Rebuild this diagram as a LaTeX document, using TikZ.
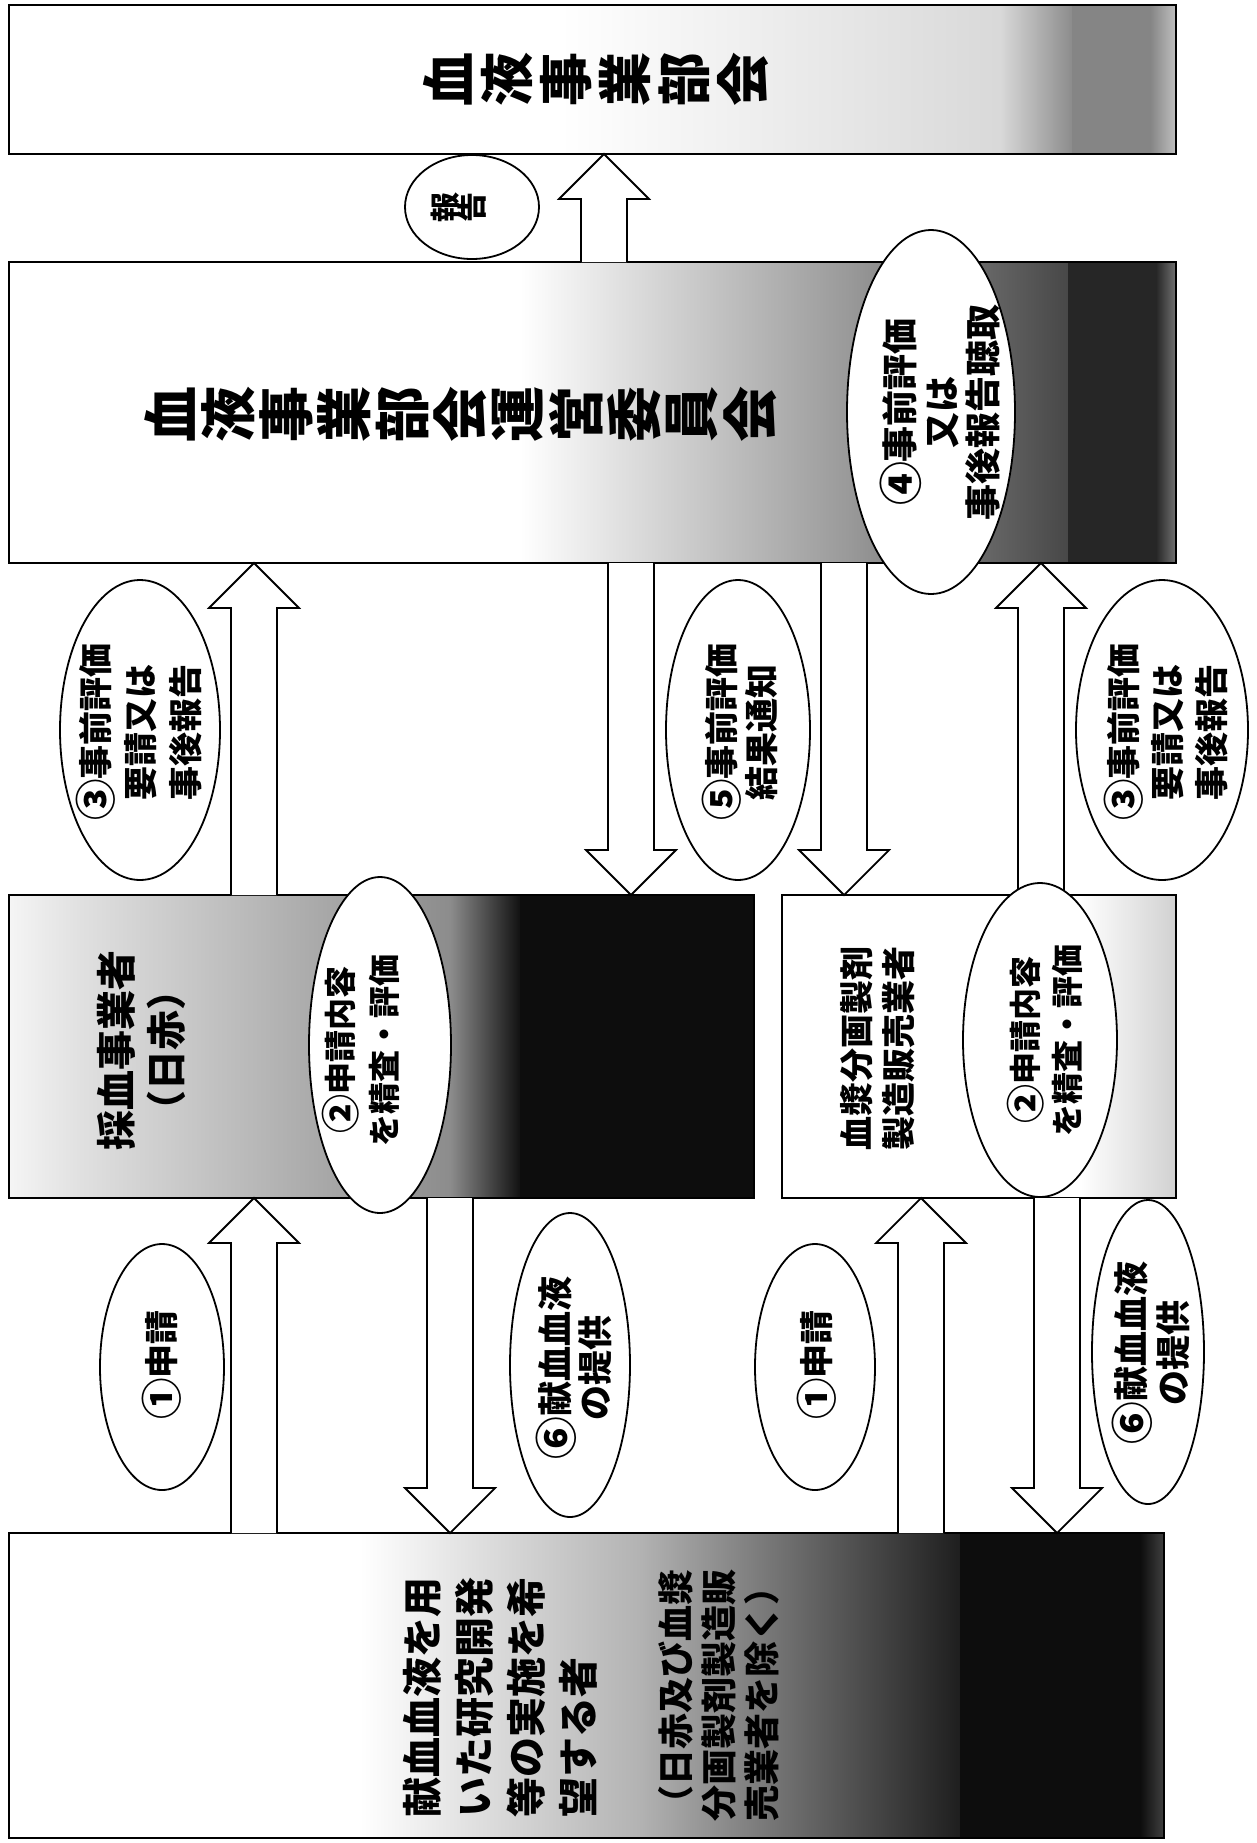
\documentclass[tikz,border=0pt]{standalone}
\usepackage{fontspec}
\usepackage{graphicx}
\setmainfont{Noto Sans CJK JP}
\usetikzlibrary{calc,shapes.geometric}
\newcommand{\blkup}[2]{\draw[blk] ($(#1)+(-23,0)$) -- ($(#2)+(-23,45)$) -- ($(#2)+(-45,45)$) -- (#2) -- ($(#2)+(45,45)$) -- ($(#2)+(23,45)$) -- ($(#1)+(23,0)$);}
\newcommand{\blkdown}[2]{\draw[blk] ($(#1)+(-23,0)$) -- ($(#2)+(-23,-45)$) -- ($(#2)+(-45,-45)$) -- (#2) -- ($(#2)+(45,-45)$) -- ($(#2)+(23,-45)$) -- ($(#1)+(23,0)$);}
\newcommand{\cdg}[1]{\raisebox{-0.1em}{\scalebox{1.22}{#1}}}
\begin{document}
\begin{tikzpicture}[x=0.5pt,y=-0.5pt,
  box/.style={draw,line width=1.4pt,rectangle,inner sep=0pt},
  ell/.style={draw,ellipse,fill=white,line width=0.9pt,inner sep=0pt},
  blk/.style={draw,fill=white,line width=0.9pt,line join=miter},
  lbl/.style={rotate=90,align=center,inner sep=0pt,font=\bfseries\fontsize{17}{22}\selectfont},
  vch/.style={rotate=90,inner sep=0pt},
]
\useasboundingbox (0,0) rectangle (1257,1843);
\fill[white] (0,0) rectangle (1257,1843);
% ---- background shading of boxes
\shade[left color=white,right color=black!15] (560,5) rectangle (1000,154);
\shade[left color=black!15,right color=black!45] (1000,5) rectangle (1072,154);
\fill[black!48] (1072,5) rectangle (1150,154);
\shade[left color=black!48,right color=black!25] (1150,5) rectangle (1176,154);
\shade[left color=white,right color=black!40] (520,262) rectangle (850,563);
\shade[left color=black!40,right color=black!72] (850,262) rectangle (1068,563);
\fill[black!85] (1068,262) rectangle (1156,563);
\shade[left color=black!85,right color=black!55] (1156,262) rectangle (1176,563);
\shade[left color=black!4,right color=black!12] (9,895) rectangle (80,1198);
\shade[left color=black!12,right color=black!32] (80,895) rectangle (300,1198);
\shade[left color=black!32,right color=black!45] (300,895) rectangle (450,1198);
\shade[left color=black!45,right color=black!93] (450,895) rectangle (520,1198);
\fill[black!95] (520,895) rectangle (754,1198);
\shade[left color=white,right color=black!18] (1080,895) rectangle (1176,1198);
\shade[left color=white,right color=black!30] (360,1533) rectangle (640,1838);
\shade[left color=black!30,right color=black!88] (640,1533) rectangle (960,1838);
\fill[black!95] (960,1533) rectangle (1140,1838);
\shade[left color=black!95,right color=black!75] (1140,1533) rectangle (1164,1838);
% ---- boxes
\node[box,minimum width=583.5pt,minimum height=74.5pt] (bukai) at (592.5,79.5) {};
\node[box,minimum width=583.5pt,minimum height=150.5pt] (iinkai) at (592.5,412.5) {};
\node[box,minimum width=372.5pt,minimum height=151.5pt] (saiketsu) at (381.5,1046.5) {};
\node[box,minimum width=197pt,minimum height=151.5pt] (kesho) at (979,1046.5) {};
\node[box,minimum width=577.5pt,minimum height=152.5pt] (kibou) at (586.5,1685.5) {};
% ---- box texts
\foreach \c [count=\i] in {血,液,事,業,部,会}
  \node[vch,font=\bfseries\fontsize{27}{30}\selectfont] (ta\i) at ({448+(\i-1)*59},79) {\c};
\foreach \c [count=\i] in {血,液,事,業,部,会,運,営,委,員,会}
  \node[vch,font=\bfseries\fontsize{28}{30}\selectfont] (tb\i) at ({170+(\i-1)*58},414) {\c};
\node[lbl,font=\bfseries\fontsize{20}{25}\selectfont] (tsai) at (141,1050) {採血事業者\\（日赤）};
\node[lbl,font=\bfseries\fontsize{17}{21}\selectfont] (tkes) at (878,1048) {血漿分画製剤\\製造販売業者};
\node[rotate=90,anchor=north west,align=left,inner sep=0pt,font=\bfseries\fontsize{20}{26}\selectfont] (tkib1) at (403,1818) {献血血液を用\\いた研究開発\\等の実施を希\\望する者};
\node[rotate=90,anchor=north west,align=left,inner sep=0pt,font=\bfseries\fontsize{18}{21.5}\selectfont] (tkib2) at (658,1822) {（日赤及び血漿\\分画製剤製造販\\売業者を除く）};
% ---- arrow end points
\coordinate (a0s) at (604,262);  \coordinate (a0e) at (604,154);
\coordinate (a3ls) at (254,895); \coordinate (a3le) at (254,563);
\coordinate (a5s) at (631,563);  \coordinate (a5e) at (631,895);
\coordinate (a5bs) at (844,563); \coordinate (a5be) at (844,895);
\coordinate (a3rs) at (1041,895); \coordinate (a3re) at (1041,563);
\coordinate (a1ls) at (254,1533); \coordinate (a1le) at (254,1198);
\coordinate (a6ls) at (450,1198); \coordinate (a6le) at (450,1533);
\coordinate (a1rs) at (921,1533); \coordinate (a1re) at (921,1198);
\coordinate (a6rs) at (1057,1198); \coordinate (a6re) at (1057,1533);
\blkup{a0s}{a0e}
\blkup{a3ls}{a3le}
\blkdown{a5s}{a5e}
\blkdown{a5bs}{a5be}
\blkup{a3rs}{a3re}
\blkup{a1ls}{a1le}
\blkdown{a6ls}{a6le}
\blkup{a1rs}{a1re}
\blkdown{a6rs}{a6re}
% ---- ellipses
\node[ell,minimum width=67pt,minimum height=52pt] (eh) at (472,207) {};
\node[ell,minimum width=84pt,minimum height=182pt] (e4) at (931,412) {};
\node[ell,minimum width=80pt,minimum height=150pt] (e3l) at (140,730) {};
\node[ell,minimum width=72pt,minimum height=150pt] (e5) at (738,730) {};
\node[ell,minimum width=86pt,minimum height=150pt] (e3r) at (1162,730) {};
\node[ell,minimum width=71pt,minimum height=168pt] (e2l) at (380,1045) {};
\node[ell,minimum width=77pt,minimum height=157pt] (e2r) at (1040,1040) {};
\node[ell,minimum width=62pt,minimum height=123pt] (e1l) at (162,1367) {};
\node[ell,minimum width=60pt,minimum height=152pt] (e6l) at (570,1365) {};
\node[ell,minimum width=60pt,minimum height=123pt] (e1r) at (815,1367) {};
\node[ell,minimum width=56pt,minimum height=152pt] (e6r) at (1148,1352) {};
% ---- ellipse labels
\node[vch,font=\bfseries\fontsize{15}{16}\selectfont] (lh1) at (445,207) {報};
\node[vch,font=\bfseries\fontsize{15}{16}\selectfont] (lh2) at (472,207) {告};
\node[lbl,font=\bfseries\fontsize{18}{20.75}\selectfont] (l4) at (940,412) {\cdg{④}事前評価\\又は\\事後報告聴取};
\node[lbl,font=\bfseries\fontsize{17}{22.5}\selectfont] (l3l) at (139,732) {\cdg{③}事前評価\\要請又は\\事後報告};
\node[lbl,font=\bfseries\fontsize{17}{20}\selectfont] (l5) at (740,732) {\cdg{⑤}事前評価\\結果通知};
\node[lbl,font=\bfseries\fontsize{17}{22}\selectfont] (l3r) at (1166,732) {\cdg{③}事前評価\\要請又は\\事後報告};
\node[lbl,font=\bfseries\fontsize{16}{22}\selectfont] (l2l) at (361,1050) {\cdg{②}申請内容\\を精査・評価};
\node[lbl,font=\bfseries\fontsize{16}{21}\selectfont] (l2r) at (1045,1040) {\cdg{②}申請内容\\を精査・評価};
\node[lbl] (l1l) at (162,1365) {\cdg{①}申請};
\node[lbl,font=\bfseries\fontsize{17.5}{20}\selectfont] (l6l) at (574,1368) {\cdg{⑥}献血血液\\の提供};
\node[lbl] (l1r) at (817,1365) {\cdg{①}申請};
\node[lbl,font=\bfseries\fontsize{17.5}{21}\selectfont] (l6r) at (1151,1353) {\cdg{⑥}献血血液\\の提供};
\end{tikzpicture}
\end{document}
